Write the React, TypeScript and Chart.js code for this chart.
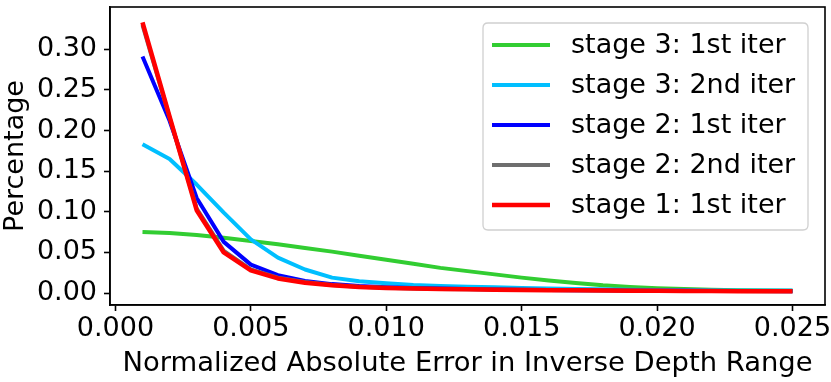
import React, { useEffect, useRef } from "react";
import { Chart, registerables } from "chart.js";

Chart.register(...registerables);

const errorBins = [0.001, 0.002, 0.003, 0.004, 0.005, 0.006, 0.007, 0.008, 0.009, 0.010, 0.011, 0.012, 0.013, 0.014, 0.015, 0.016, 0.017, 0.018, 0.019, 0.020, 0.021, 0.022, 0.023, 0.024, 0.025];

const stage3Iter1 = [0.075, 0.074, 0.0715, 0.068, 0.064, 0.060, 0.0555, 0.051, 0.046, 0.041, 0.036, 0.031, 0.027, 0.023, 0.019, 0.0155, 0.0125, 0.0095, 0.0075, 0.006, 0.005, 0.004, 0.0035, 0.003, 0.0028];
const stage3Iter2 = [0.183, 0.165, 0.1335, 0.099, 0.066, 0.0435, 0.029, 0.019, 0.0145, 0.012, 0.010, 0.0088, 0.0078, 0.007, 0.0063, 0.0057, 0.0051, 0.0046, 0.0042, 0.0039, 0.0036, 0.0034, 0.0032, 0.0031, 0.003];
const stage2Iter1 = [0.291, 0.212, 0.117, 0.063, 0.035, 0.022, 0.015, 0.011, 0.0087, 0.0072, 0.0062, 0.0055, 0.005, 0.0046, 0.0042, 0.0039, 0.0036, 0.0034, 0.0031, 0.0029, 0.0027, 0.0026, 0.0025, 0.0024, 0.0023];
const stage2Iter2 = [0.330, 0.216, 0.104, 0.052, 0.029, 0.019, 0.0135, 0.010, 0.0078, 0.0065, 0.0057, 0.0051, 0.0047, 0.0043, 0.004, 0.0037, 0.0034, 0.0032, 0.003, 0.0028, 0.0026, 0.0025, 0.0024, 0.0023, 0.0022];
const stage1Iter1 = [0.333, 0.217, 0.102, 0.050, 0.028, 0.018, 0.0128, 0.0095, 0.0075, 0.0062, 0.0055, 0.005, 0.0046, 0.0042, 0.0039, 0.0036, 0.0033, 0.0031, 0.0029, 0.0027, 0.0025, 0.0024, 0.0023, 0.0022, 0.0021];

const seriesLabels = ["stage 3: 1st iter", "stage 3: 2nd iter", "stage 2: 1st iter", "stage 2: 2nd iter", "stage 1: 1st iter"];
const seriesValues = [stage3Iter1, stage3Iter2, stage2Iter1, stage2Iter2, stage1Iter1];
const seriesColors = ["#32CD32", "#00BFFF", "#0000FF", "#6E6E6E", "#FF0000"];
const seriesWidths = [4, 4, 4, 4, 4.5];

const xTicks = [0.0, 0.005, 0.010, 0.015, 0.020, 0.025];
const xTickLabels = ["0.000", "0.005", "0.010", "0.015", "0.020", "0.025"];
const yTicks = [0.0, 0.05, 0.10, 0.15, 0.20, 0.25, 0.30];
const yTickLabels = ["0.00", "0.05", "0.10", "0.15", "0.20", "0.25", "0.30"];

const FONT = "'DejaVu Sans', sans-serif";

const framePlugin = {
  id: "frame",
  afterDatasetsDraw(chart: any) {
    const { ctx, chartArea } = chart;
    ctx.save();
    ctx.strokeStyle = "#000";
    ctx.lineWidth = 1.6;
    ctx.strokeRect(chartArea.left, chartArea.top, chartArea.right - chartArea.left, chartArea.bottom - chartArea.top);
    ctx.restore();
  },
};

const legendPlugin = {
  id: "customLegend",
  afterDraw(chart: any) {
    const { ctx } = chart;
    const x0 = 483, y0 = 23, w = 325, h = 207, r = 5;
    ctx.save();
    ctx.beginPath();
    ctx.moveTo(x0 + r, y0);
    ctx.lineTo(x0 + w - r, y0);
    ctx.quadraticCurveTo(x0 + w, y0, x0 + w, y0 + r);
    ctx.lineTo(x0 + w, y0 + h - r);
    ctx.quadraticCurveTo(x0 + w, y0 + h, x0 + w - r, y0 + h);
    ctx.lineTo(x0 + r, y0 + h);
    ctx.quadraticCurveTo(x0, y0 + h, x0, y0 + h - r);
    ctx.lineTo(x0, y0 + r);
    ctx.quadraticCurveTo(x0, y0, x0 + r, y0);
    ctx.closePath();
    ctx.fillStyle = "rgba(255,255,255,0.8)";
    ctx.fill();
    ctx.strokeStyle = "#D0D0D0";
    ctx.lineWidth = 1.3;
    ctx.stroke();
    ctx.font = `27px ${FONT}`;
    ctx.textBaseline = "middle";
    ctx.textAlign = "left";
    chart.data.datasets.forEach((ds: any, i: number) => {
      const y = 45 + i * 40;
      ctx.beginPath();
      ctx.strokeStyle = ds.borderColor;
      ctx.lineWidth = ds.borderWidth;
      ctx.moveTo(492, y);
      ctx.lineTo(550, y);
      ctx.stroke();
      ctx.fillStyle = "#000";
      ctx.fillText(ds.label, 571, y + 1);
    });
    ctx.restore();
  },
};

export default function App() {
  const canvasRef = useRef<HTMLCanvasElement | null>(null);

  useEffect(() => {
    if (!canvasRef.current) return;
    const datasets = seriesLabels.map((label, i) => ({
      label,
      data: errorBins.map((x, j) => ({ x, y: seriesValues[i][j] })),
      borderColor: seriesColors[i],
      backgroundColor: seriesColors[i],
      borderWidth: seriesWidths[i],
      pointRadius: 0,
      tension: 0,
      fill: false,
      order: seriesLabels.length - i,
      borderJoinStyle: "round" as const,
    }));

    const chart = new Chart(canvasRef.current, {
      type: "line",
      data: { datasets },
      plugins: [framePlugin, legendPlugin],
      options: {
        animation: false,
        responsive: false,
        devicePixelRatio: 1,
        layout: { padding: { top: 7, right: 6, left: 0, bottom: 0 } },
        plugins: { legend: { display: false }, tooltip: { enabled: false } },
        scales: {
          x: {
            type: "linear",
            min: -0.0002,
            max: 0.0262,
            afterFit: (s: any) => { s.height = 77; s.paddingLeft = 0; s.paddingRight = 0; },
            afterBuildTicks: (s: any) => { s.ticks = xTicks.map((v) => ({ value: v })); },
            ticks: {
              font: { family: FONT, size: 27 },
              color: "#000",
              padding: 2,
              maxRotation: 0,
              autoSkip: false,
              callback: (v: any) => {
                const k = xTicks.findIndex((t) => Math.abs(t - v) < 1e-9);
                return k >= 0 ? xTickLabels[k] : "";
              },
            },
            grid: { display: true, drawOnChartArea: false, drawTicks: true, tickLength: 6, tickWidth: 1.6, color: "#000" },
            border: { display: true, color: "#000", width: 1.6 },
            title: { display: true, text: "Normalized Absolute Error in Inverse Depth Range", font: { family: FONT, size: 27.4 }, color: "#000", padding: { top: 0, bottom: 2 } },
          },
          y: {
            type: "linear",
            min: -0.0147,
            max: 0.352,
            afterFit: (s: any) => { s.width = 110; s.paddingTop = 0; s.paddingBottom = 0; },
            afterBuildTicks: (s: any) => { s.ticks = yTicks.map((v) => ({ value: v })); },
            ticks: {
              font: { family: FONT, size: 27 },
              color: "#000",
              padding: 7,
              autoSkip: false,
              callback: (v: any) => {
                const k = yTicks.findIndex((t) => Math.abs(t - v) < 1e-9);
                return k >= 0 ? yTickLabels[k] : "";
              },
            },
            grid: { display: true, drawOnChartArea: false, drawTicks: true, tickLength: 6, tickWidth: 1.6, color: "#000" },
            border: { display: true, color: "#000", width: 1.6 },
            title: { display: true, text: "Percentage", font: { family: FONT, size: 27 }, color: "#000", padding: { top: 0, bottom: 0 } },
          },
        },
      },
    });
    return () => chart.destroy();
  }, []);

  return (
    <div style={{ position: "absolute", left: 0, top: 0, width: 831, height: 382, background: "#fff" }}>
      <canvas ref={canvasRef} width={831} height={382} style={{ display: "block" }} />
    </div>
  );
}
